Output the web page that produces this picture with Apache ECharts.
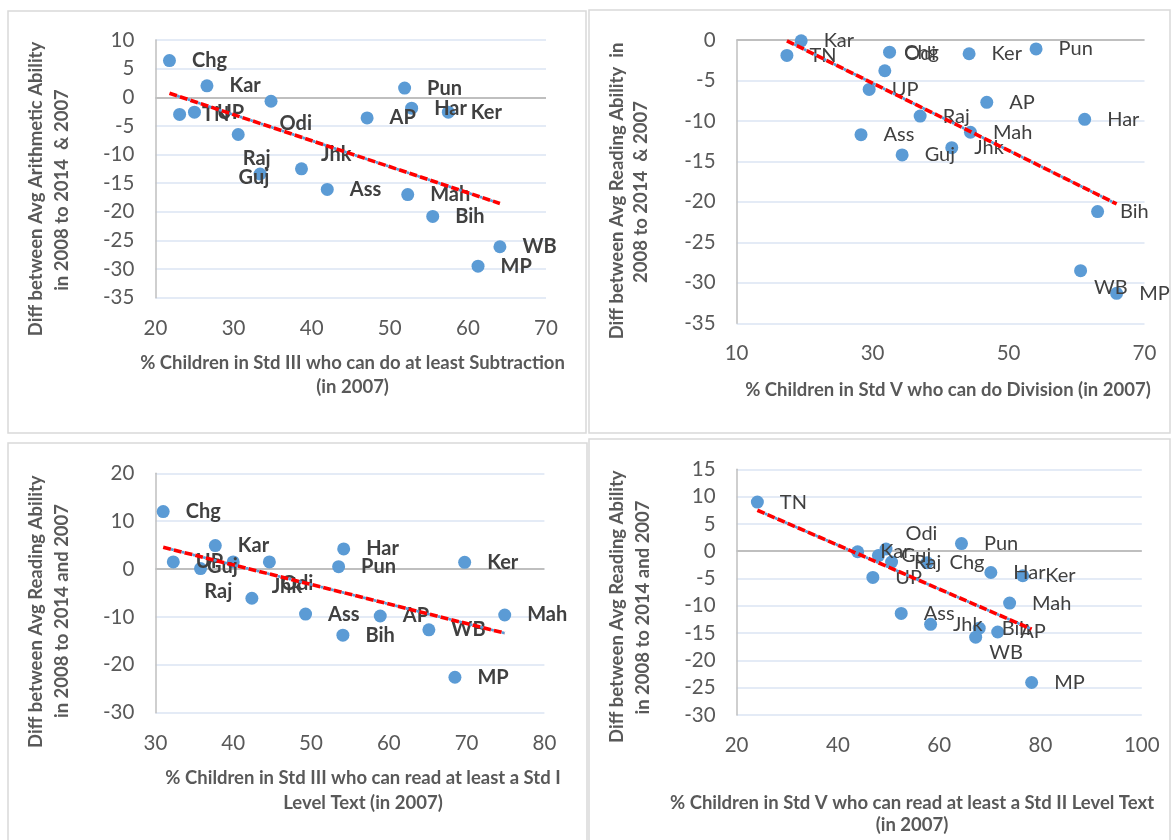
<!DOCTYPE html>
<html><head><meta charset="utf-8">
<script src="https://cdn.jsdelivr.net/npm/echarts@6/dist/echarts.min.js"></script>
<style>html,body{margin:0;padding:0;background:#fff}#c{width:1171px;height:840px}</style>
</head><body><div id="c"></div>
<script>
// ---------- DATA ----------
// Panel 1 (top-left)
const p1States = ['Chg','Kar','TN','UP','Odi','Raj','Guj','Jhk','Ass','Pun','Har','Ker','AP','Mah','Bih','WB','MP'];
const p1X = [21.8,26.6,23.1,25.0,34.8,30.6,33.4,38.7,42.0,51.9,52.8,57.5,47.1,52.3,55.5,64.1,61.3];
const p1Y = [6.4,2.0,-3.0,-2.6,-0.7,-6.5,-13.4,-12.5,-16.1,1.6,-1.9,-2.6,-3.6,-17.0,-20.8,-26.1,-29.5];
const p1XTicks = [20,30,40,50,60,70];
const p1YTicks = [10,5,0,-5,-10,-15,-20,-25,-30,-35];
const p1XTitle = ['% Children in Std III who can do at least Subtraction','(in 2007)'];
const p1YTitle = ['Diff between Avg Arithmetic Ability','in 2008 to 2014  & 2007'];

// Panel 2 (top-right)
const p2States = ['Kar','TN','Chg','Odi','UP','Ker','Pun','AP','Raj','Har','Ass','Mah','Jhk','Guj','Bih','WB','MP'];
const p2X = [19.5,17.4,32.5,31.8,29.5,44.2,54.05,46.8,37.0,61.2,28.3,44.4,41.65,34.35,63.1,60.6,65.9];
const p2Y = [-0.1,-1.9,-1.5,-3.8,-6.1,-1.7,-1.1,-7.7,-9.4,-9.8,-11.7,-11.4,-13.3,-14.2,-21.2,-28.5,-31.3];
const p2XTicks = [10,30,50,70];
const p2YTicks = [0,-5,-10,-15,-20,-25,-30,-35];
const p2XTitle = ['% Children in Std V who can do Division (in 2007)'];
const p2YTitle = ['Diff between Avg Reading Ability  in','2008 to 2014  & 2007'];

// Panel 3 (bottom-left)
const p3States = ['Chg','Kar','Har','UP','Guj','Jhk','Odi','Pun','Ker','Raj','Ass','AP','Bih','WB','Mah','MP'];
const p3X = [31.0,37.7,54.2,32.3,35.8,40.0,44.65,53.55,69.75,42.4,49.3,58.9,54.1,65.15,74.9,68.5];
const p3Y = [12.0,4.9,4.2,1.5,0.1,1.5,1.5,0.5,1.4,-6.1,-9.4,-9.8,-13.8,-12.7,-9.6,-22.6];
const p3XTicks = [30,40,50,60,70,80];
const p3YTicks = [20,10,0,-10,-20,-30];
const p3XTitle = ['% Children in Std III who can read at least a Std I','Level Text (in 2007)'];
const p3YTitle = ['Diff between Avg Reading Ability','in 2008 to 2014 and 2007'];

// Panel 4 (bottom-right)
const p4States = ['TN','Kar','Odi','Guj','Raj','Chg','Pun','Har','Ker','UP','Mah','Ass','Jhk','Bih','AP','WB','MP'];
const p4X = [24.1,43.9,49.5,48.0,50.6,57.6,64.4,70.2,76.5,46.9,73.9,52.5,58.3,67.9,71.55,67.2,78.25];
const p4Y = [9.0,-0.1,0.4,-0.8,-2.0,-2.1,1.4,-3.9,-4.5,-4.8,-9.5,-11.4,-13.4,-14.1,-14.8,-15.75,-24.05];
const p4XTicks = [20,40,60,80,100];
const p4YTicks = [15,10,5,0,-5,-10,-15,-20,-25,-30];
const p4XTitle = ['% Children in Std V who can read at least a Std II Level Text','(in 2007)'];
const p4YTitle = ['Diff between Avg Reading Ability','in 2008 to 2014 and 2007'];

// ---------- LAYOUT / STYLE ----------
const FONT = 'Lato';
const TITLE_FONT = 'bold 18.5px ' + FONT;
const panels = [
  {states:p1States, xs:p1X, ys:p1Y, xt:p1XTicks, yt:p1YTicks, bold:true,
   grid:{left:155.4, top:40, width:390.6, height:257.7},
   nudge:{Odi:[-14,22],Raj:[-18,24],Guj:[-44,4],Jhk:[-3,-14]},
   xTitle:p1XTitle, xTitlePos:[[352.5,363.3],[352.6,386.7]],
   yTitle:p1YTitle, yTitlePos:[[36.5,189],[62,190]]},
  {states:p2States, xs:p2X, ys:p2Y, xt:p2XTicks, yt:p2YTicks, bold:false,
   grid:{left:736.6, top:40, width:407.9, height:283.3},
   nudge:{Chg:[-8,0],Odi:[-3,-17],WB:[-9,17]},
   xTitle:p2XTitle, xTitlePos:[[948,390]],
   yTitle:p2YTitle, yTitlePos:[[617,191],[641.4,192]]},
  {states:p3States, xs:p3X, ys:p3Y, xt:p3XTicks, yt:p3YTicks, bold:true,
   grid:{left:155.4, top:473.3, width:389, height:239.4},
   nudge:{Guj:[-16,-2],Jhk:[16,25],Odi:[-11,22],Raj:[-70,-7]},
   xTitle:p3XTitle, xTitlePos:[[363,778.3],[363,803.3]],
   yTitle:p3YTitle, yTitlePos:[[36.5,611.7],[62,611]]},
  {states:p4States, xs:p4X, ys:p4Y, xt:p4XTicks, yt:p4YTicks, bold:false,
   grid:{left:736.6, top:469.3, width:405.2, height:245.7},
   nudge:{Odi:[-3,-15],WB:[-9,15]},
   xTitle:p4XTitle, xTitlePos:[[912,803.3],[912,825]],
   yTitle:p4YTitle, yTitlePos:[[617,606.7],[643.3,607.5]]}
];

function regression(xs, ys){
  const n = xs.length;
  const mx = xs.reduce((a,b)=>a+b,0)/n, my = ys.reduce((a,b)=>a+b,0)/n;
  let sxy=0, sxx=0;
  for(let i=0;i<n;i++){ sxy += (xs[i]-mx)*(ys[i]-my); sxx += (xs[i]-mx)*(xs[i]-mx); }
  const b = sxy/sxx, a = my - b*mx;
  const x0 = Math.min(...xs), x1 = Math.max(...xs);
  return [[x0, a+b*x0],[x1, a+b*x1]];
}

const grids=[], xAxes=[], yAxes=[], series=[], graphics=[];
// panel frames
[[8,11,578,422],[589,10,581,423],[8,443,579,400],[589,439,581,405]].forEach(r=>{
  graphics.push({type:'rect', shape:{x:r[0],y:r[1],width:r[2],height:r[3]}, style:{fill:'none', stroke:'#d9d9d9', lineWidth:1.5}, silent:true});
});

panels.forEach((p,i)=>{
  grids.push(p.grid);
  const xmin = Math.min(...p.xt), xmax = Math.max(...p.xt);
  const ymin = Math.min(...p.yt), ymax = Math.max(...p.yt);
  const yint = Math.abs(p.yt[0]-p.yt[1]);
  xAxes.push({type:'value', gridIndex:i, min:xmin, max:xmax,
    axisLine:{show:false}, axisTick:{show:false}, splitLine:{show:false},
    axisLabel:{customValues:p.xt, color:'#595959', fontSize:20.5, fontFamily:FONT, margin:20}});
  yAxes.push({type:'value', gridIndex:i, min:ymin, max:ymax, interval:yint,
    axisLine:{show:true, onZero:false, lineStyle:{color:'#bfbfbf', width:1.5}},
    axisTick:{show:false},
    splitLine:{show:true, lineStyle:{color:'#dbe4f3', width:1.5}},
    axisLabel:{color:'#595959', fontSize:20.5, fontFamily:FONT, margin:21}});
  const data = p.xs.map((x,k)=>{
    const d = {value:[x, p.ys[k]], name:p.states[k]};
    const nd = p.nudge[p.states[k]];
    if(nd) d.label = {offset:nd};
    return d;
  });
  series.push({type:'scatter', xAxisIndex:i, yAxisIndex:i, data, symbolSize:13, z:3,
    itemStyle:{color:'#5b9bd5', opacity:1},
    label:{show:true, position:'right', distance:16, formatter:'{b}', color:'#404040',
      fontSize:20, fontFamily:FONT, fontWeight:p.bold?'bold':'normal'},
    emphasis:{disabled:true},
    markLine:{silent:true, symbol:'none', z:1, label:{show:false},
      lineStyle:{color:'#bfbfbf', width:1.8, type:'solid'}, data:[{yAxis:0}]}
  });
  const tl = regression(p.xs, p.ys);
  series.push({type:'line', xAxisIndex:i, yAxisIndex:i, data:tl, symbol:'none', silent:true, z:4,
    lineStyle:{color:'#ff0000', width:3.6, type:[8,3]}});
  series.push({type:'line', xAxisIndex:i, yAxisIndex:i, data:tl, symbol:'none', silent:true, z:5,
    lineStyle:{color:'#5b9bd5', width:2.8, type:[0.5,10.5], dashOffset:1.75, cap:'round'}});
  p.xTitle.forEach((t,k)=>{
    graphics.push({type:'text', x:p.xTitlePos[k][0], y:p.xTitlePos[k][1], silent:true,
      style:{text:t, fill:'#595959', font:TITLE_FONT, align:'center', verticalAlign:'middle'}});
  });
  p.yTitle.forEach((t,k)=>{
    graphics.push({type:'text', x:p.yTitlePos[k][0], y:p.yTitlePos[k][1], rotation:Math.PI/2, silent:true,
      style:{text:t, fill:'#595959', font:TITLE_FONT, align:'center', verticalAlign:'middle'}});
  });
});

const chart = echarts.init(document.getElementById('c'), null, {renderer:'canvas'});
chart.setOption({
  animation:false,
  backgroundColor:'#ffffff',
  grid:grids, xAxis:xAxes, yAxis:yAxes, series, graphic:graphics
});
</script></body></html>
